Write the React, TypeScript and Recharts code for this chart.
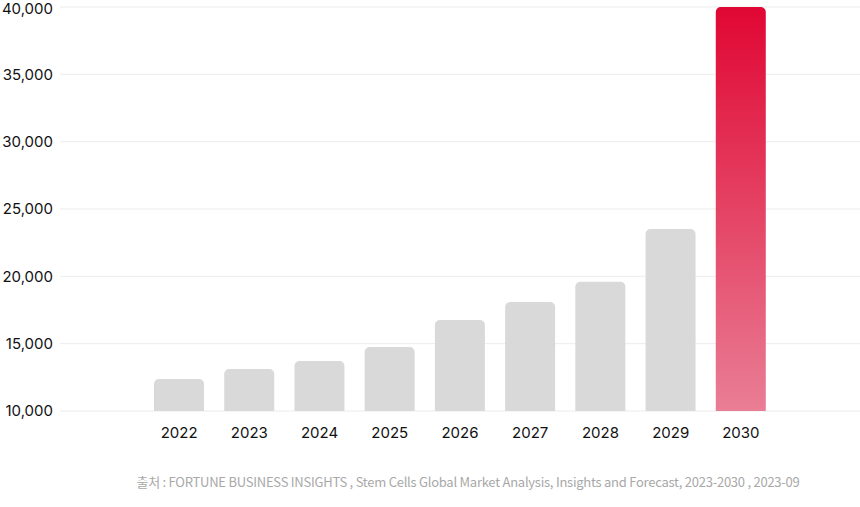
import { BarChart, Bar, XAxis, YAxis, CartesianGrid, Cell } from 'recharts'

const years = ['2022', '2023', '2024', '2025', '2026', '2027', '2028', '2029', '2030']
const marketSize = [12380, 13120, 13710, 14750, 16760, 18090, 19600, 23510, 40000]
const yTicks = [10000, 15000, 20000, 25000, 30000, 35000, 40000]
const sourceNote =
  '출처 : FORTUNE BUSINESS INSIGHTS , Stem Cells Global Market Analysis, Insights and Forecast, 2023-2030 , 2023-09'

const data = years.map((year, i) => ({ year, value: marketSize[i] }))

const fmt = (v: number) => v.toLocaleString('en-US')

const tickStyle = { fill: '#111', fontSize: 15, fontFamily: 'Inter, sans-serif' }

export default function App() {
  return (
    <div style={{ position: 'absolute', left: 0, top: 0, width: 860, height: 507, background: '#fff' }}>
      <BarChart
        width={860}
        height={450}
        data={data}
        margin={{ top: 7, right: 0, bottom: 0, left: 0 }}
        style={{ overflow: 'visible' }}
      >
        <defs>
          <linearGradient id="hl" x1="0" y1="0" x2="0" y2="1">
            <stop offset="0%" stopColor="#e00733" />
            <stop offset="100%" stopColor="#e97e95" />
          </linearGradient>
        </defs>
        <CartesianGrid stroke="#ececec" vertical={false} />
        <XAxis
          dataKey="year"
          axisLine={false}
          tickLine={false}
          tickSize={0}
          tickMargin={16}
          height={39}
          padding={{ left: 84, right: 84 }}
          tick={tickStyle}
          interval={0}
        />
        <YAxis
          domain={[10000, 40000]}
          ticks={yTicks}
          tickFormatter={fmt}
          axisLine={false}
          tickLine={false}
          tickSize={0}
          tickMargin={7}
          width={60}
          allowDataOverflow
          tick={tickStyle}
        />
        <Bar dataKey="value" barSize={50} radius={[5, 5, 0, 0]} isAnimationActive={false}>
          {data.map((d, i) => (
            <Cell key={d.year} fill={i === data.length - 1 ? 'url(#hl)' : '#d9d9d9'} />
          ))}
        </Bar>
      </BarChart>
      <div
        style={{
          position: 'absolute',
          top: 472,
          left: 0,
          width: 936,
          textAlign: 'center',
          fontFamily: '"Noto Sans CJK KR", "Noto Sans", sans-serif',
          fontSize: 13,
          letterSpacing: '-0.25px',
          color: '#a8a8a8',
          whiteSpace: 'nowrap',
        }}
      >
        {sourceNote}
      </div>
    </div>
  )
}
